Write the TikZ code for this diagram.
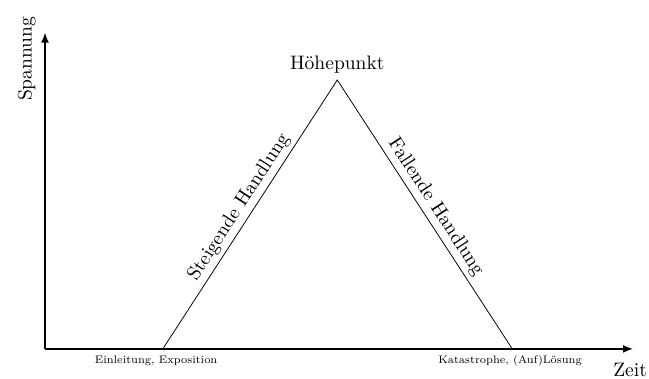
\documentclass[tikz,border=0pt]{standalone}
\usepackage{tikz}
\usetikzlibrary{arrows.meta,positioning}
\tikzset{
  axisline/.style={-{Latex[length=5pt,width=4pt]},semithick,color=black},
  curveline/.style={-,thin,color=black},
  phaselabel/.style={font=\normalsize,inner sep=2pt},
  steplabel/.style={font=\scriptsize,inner sep=4pt,scale=0.8,transform shape}
}
\begin{document}
\begin{tikzpicture}[
  axislabel/.style={font=\normalsize,inner sep=0pt}
]
\useasboundingbox (-0.81,-0.54) rectangle (10.87,6.28);

%% ── Axes ─────────────────────────────────────────────────
\coordinate (o) at (0,0);
\coordinate (ytip) at (0,5.69);
\coordinate (xtip) at (10.58,0);
\draw[axisline] (o) -- (ytip);
\draw[axisline] (o) -- (xtip);
\node[axislabel,rotate=90] (span) at (-0.33,5.22) {Spannung};
\node[axislabel] (zeit) at (10.53,-0.38) {Zeit};

%% ── Triangle ─────────────────────────────────────────────
\coordinate (start) at (2.12,0);
\coordinate (peak) at (5.26,4.84);
\coordinate (end) at (8.41,0);
\draw[curveline] (start)
  -- node[phaselabel,midway,above,sloped]{Steigende Handlung} (peak)
  -- node[phaselabel,midway,above,sloped]{Fallende Handlung} (end);

%% ── Labels ───────────────────────────────────────────────
\node[phaselabel,above=1pt of peak] (hoehe) {Höhepunkt};
\node[steplabel,below] (einl) at (2.0,0) {Einleitung, Exposition};
\node[steplabel,below] (kat) at (8.37,0) {Katastrophe, (Auf)Lösung};

\end{tikzpicture}
\end{document}
